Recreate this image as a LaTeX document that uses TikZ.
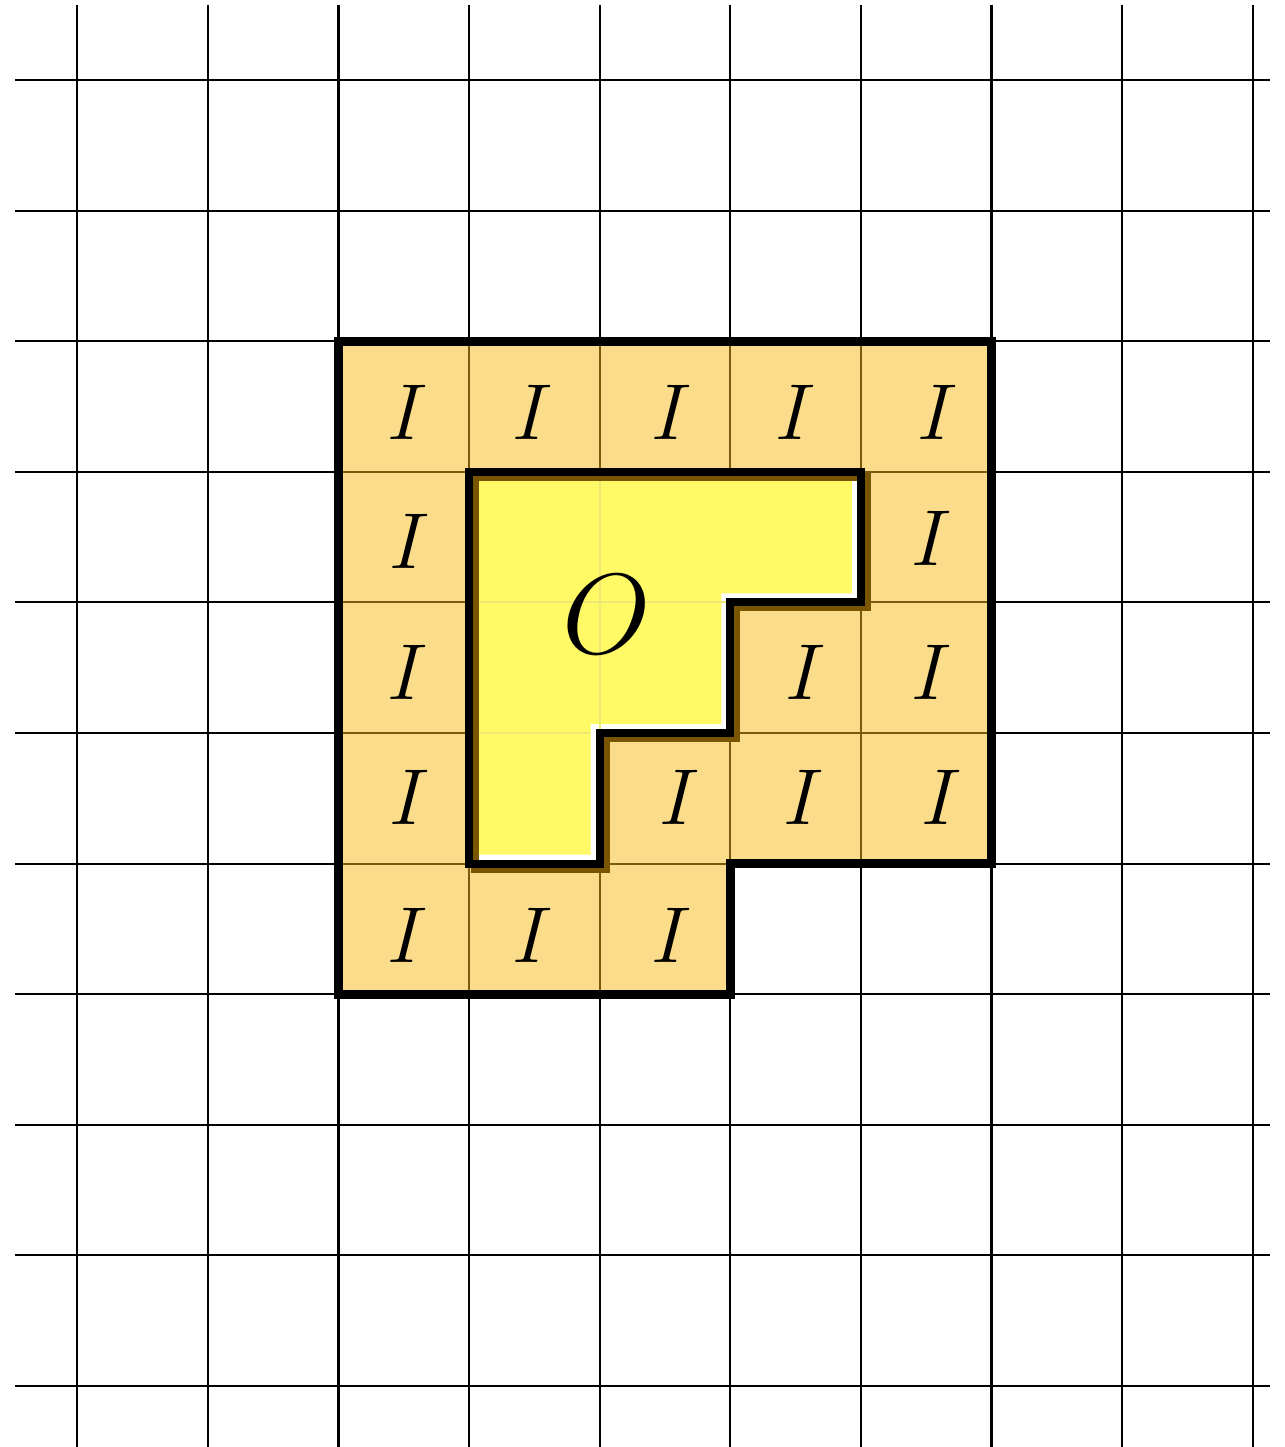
\documentclass[tikz,border=0pt]{standalone}
\definecolor{cellorange}{HTML}{FADC8A}
\definecolor{cellyellow}{HTML}{FFF966}
\definecolor{browngrid}{HTML}{7A5A10}
\definecolor{faintgrid}{HTML}{EEE876}
\definecolor{shadowbrown}{HTML}{7A5500}
\tikzset{
  gridline/.style={line width=0.45pt, black},
  inline/.style={line width=0.45pt, browngrid},
  yline/.style={line width=0.45pt, faintgrid},
  outerborder/.style={line width=2pt, black, line join=miter},
  innerborder/.style={line width=1.7pt, black, line join=miter},
  shadowline/.style={line width=1.7pt, shadowbrown, line join=miter},
  lbl/.style={inner sep=0pt, font=\fontsize{17.5}{20}\selectfont},
  biglbl/.style={inner sep=0pt, font=\fontsize{27}{30}\selectfont}
}
\begin{document}
\begin{tikzpicture}[x=0.0076570cm,y=-0.0076570cm]
\useasboundingbox (0,0) rectangle (1284,1447);
% grid coordinates
\def\Xa{338.5}\def\Xb{469.1}\def\Xc{599.7}\def\Xd{730.3}\def\Xe{860.9}\def\Xf{991.5}
\def\Ya{341.2}\def\Yb{471.8}\def\Yc{602.4}\def\Yd{733}\def\Ye{863.6}\def\Yf{994.2}
\def\outerpath{(\Xa,\Ya) -- (\Xf,\Ya) -- (\Xf,\Ye) -- (\Xd,\Ye) -- (\Xd,\Yf) -- (\Xa,\Yf) -- cycle}
\def\innerpath{(\Xb,\Yb) -- (\Xe,\Yb) -- (\Xe,\Yc) -- (\Xd,\Yc) -- (\Xd,\Yd) -- (\Xc,\Yd) -- (\Xc,\Ye) -- (\Xb,\Ye) -- cycle}
% background grid
\foreach \i in {0,...,9} \draw[gridline] ({77.3+130.6*\i},5) -- ({77.3+130.6*\i},1447);
\foreach \j in {0,...,10} \draw[gridline] (15,{80+130.6*\j}) -- (1270,{80+130.6*\j});
% orange region
\fill[cellorange] \outerpath;
\begin{scope}
  \clip \outerpath;
  \foreach \i in {3,...,6} \draw[inline] ({77.3+130.6*\i},0) -- ({77.3+130.6*\i},1447);
  \foreach \j in {3,...,6} \draw[inline] (0,{80+130.6*\j}) -- (1284,{80+130.6*\j});
\end{scope}
% yellow region
\fill[white] \innerpath;
\begin{scope}
  \clip \innerpath;
  \begin{scope}[shift={(-9,-9)}]
    \fill[cellyellow] \innerpath;
  \end{scope}
  \draw[yline] ({77.3+130.6*4},\Yb) -- ({77.3+130.6*4},{\Ye-12});
  \draw[yline] (\Xb,{80+130.6*4}) -- ({\Xe-10},{80+130.6*4});
  \draw[yline] (\Xb,{80+130.6*5}) -- ({\Xc-10},{80+130.6*5});
\end{scope}
% inner border with shadow
\begin{scope}[shift={(6,5)}]
  \draw[shadowline] \innerpath;
\end{scope}
\draw[innerborder] \innerpath;
% outer border
\draw[outerborder] \outerpath;
% labels
\node[lbl] (i11) at (408,412) {$I$};
\node[lbl] (i12) at (533,412) {$I$};
\node[lbl] (i13) at (672,412) {$I$};
\node[lbl] (i14) at (796,412) {$I$};
\node[lbl] (i15) at (938,412) {$I$};
\node[lbl] (i21) at (410,541) {$I$};
\node[lbl] (i25) at (932,538) {$I$};
\node[lbl] (i31) at (408,672) {$I$};
\node[lbl] (i34) at (806,672) {$I$};
\node[lbl] (i35) at (932,672) {$I$};
\node[lbl] (i41) at (410,797) {$I$};
\node[lbl] (i43) at (680,797) {$I$};
\node[lbl] (i44) at (804,797) {$I$};
\node[lbl] (i45) at (942,797) {$I$};
\node[lbl] (i51) at (408,935) {$I$};
\node[lbl] (i52) at (533,935) {$I$};
\node[lbl] (i53) at (672,935) {$I$};
\node[biglbl] (o) at (607,614) {$O$};
\end{tikzpicture}
\end{document}
